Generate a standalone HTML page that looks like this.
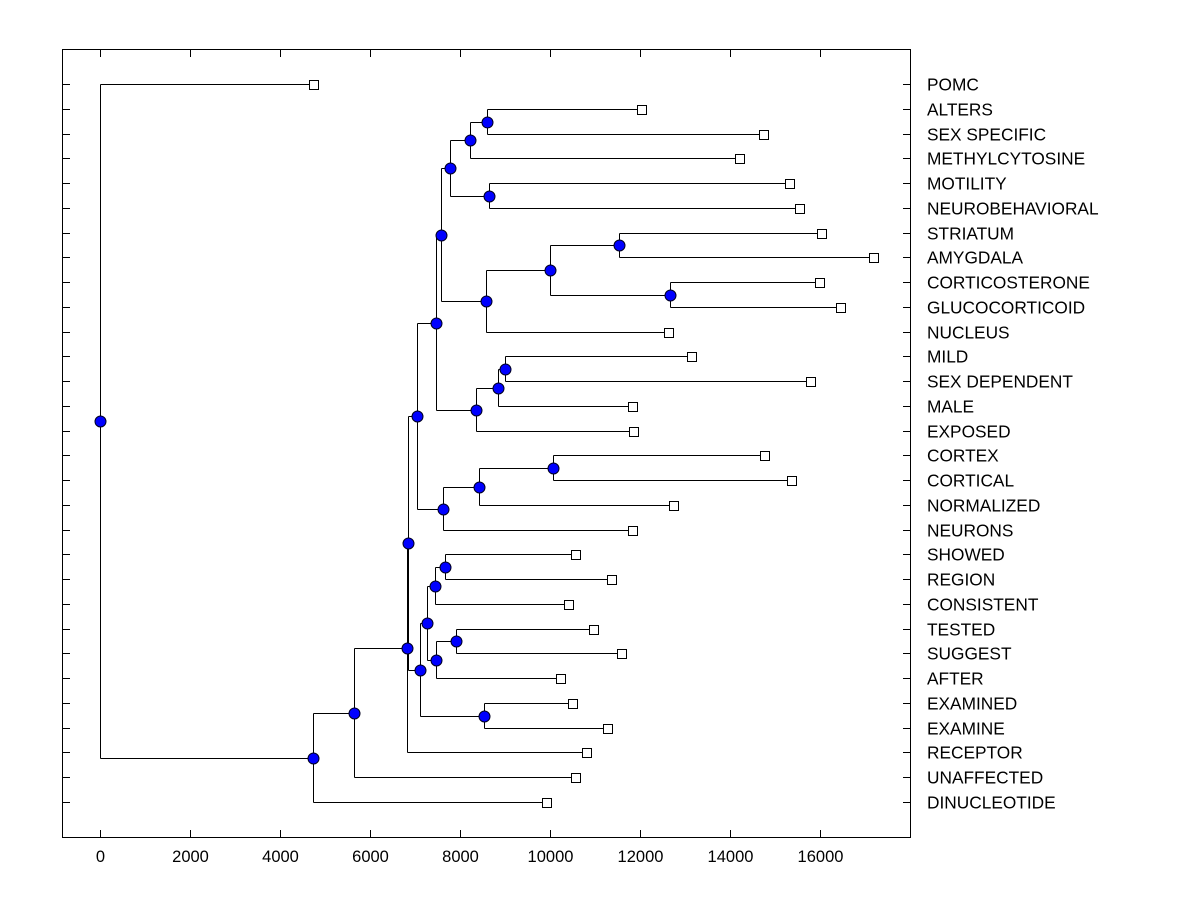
<!DOCTYPE html>
<html><head><meta charset="utf-8"><style>
html,body{margin:0;padding:0;background:#fff;}
svg{display:block;font-family:"Liberation Sans",Arial,sans-serif;}
</style></head><body>
<svg id="chart" width="1200" height="900" viewBox="0 0 1200 900" xmlns="http://www.w3.org/2000/svg">
<rect x="0" y="0" width="1200" height="900" fill="#fff"/>
<rect x="62.5" y="49.5" width="848" height="788" fill="none" stroke="#000" stroke-width="1" shape-rendering="crispEdges"/>
<g id="axes" shape-rendering="crispEdges"></g><g id="links" shape-rendering="crispEdges"></g><g id="marks"></g>
</svg>
<script>
const leafLabels = ["POMC","ALTERS","SEX SPECIFIC","METHYLCYTOSINE","MOTILITY","NEUROBEHAVIORAL","STRIATUM","AMYGDALA","CORTICOSTERONE","GLUCOCORTICOID","NUCLEUS","MILD","SEX DEPENDENT","MALE","EXPOSED","CORTEX","CORTICAL","NORMALIZED","NEURONS","SHOWED","REGION","CONSISTENT","TESTED","SUGGEST","AFTER","EXAMINED","EXAMINE","RECEPTOR","UNAFFECTED","DINUCLEOTIDE"];
const leafValues = [4733,12022,14733,14200,15311,15533,16022,17178,15978,16444,12622,13133,15778,11822,11844,14756,15356,12733,11822,10556,11356,10400,10956,11578,10222,10489,11267,10800,10556,9911];
const nodeNames = ["n-alters","n-meth","n-mot","n-450","n-str","n-cort","n-550","n-486","n-443","n-mild","n-498","n-476","n-436","n-cortex","n-479","n-443b","n-417","n-show","n-435","n-test","n-436b","n-427","n-exam","n-420","n-408","n-407","n-354","n-313","root"];
const nodeValues = [8600,8222,8644,7778,11533,12667,10000,8578,7578,9000,8844,8355,7467,10067,8422,7622,7044,7667,7444,7911,7467,7267,8533,7111,6844,6822,5644,4733,0];
const nodeChildren = [["ALTERS","SEX SPECIFIC"],["n-alters","METHYLCYTOSINE"],["MOTILITY","NEUROBEHAVIORAL"],["n-meth","n-mot"],["STRIATUM","AMYGDALA"],["CORTICOSTERONE","GLUCOCORTICOID"],["n-str","n-cort"],["n-550","NUCLEUS"],["n-450","n-486"],["MILD","SEX DEPENDENT"],["n-mild","MALE"],["n-498","EXPOSED"],["n-443","n-476"],["CORTEX","CORTICAL"],["n-cortex","NORMALIZED"],["n-479","NEURONS"],["n-436","n-443b"],["SHOWED","REGION"],["n-show","CONSISTENT"],["TESTED","SUGGEST"],["n-test","AFTER"],["n-435","n-436b"],["EXAMINED","EXAMINE"],["n-427","n-exam"],["n-417","n-420"],["n-408","RECEPTOR"],["n-407","UNAFFECTED"],["n-354","DINUCLEOTIDE"],["POMC","n-313"]];
const xTicks = [0,2000,4000,6000,8000,10000,12000,14000,16000];

const NS="http://www.w3.org/2000/svg";
const X = v => Math.round(100 + v*0.045)+0.5;
const Y = i => Math.round(84 + i*(802-84)/29)+0.5;
function mk(tag, attrs, parent){const e=document.createElementNS(NS,tag);for(const k in attrs)e.setAttribute(k,attrs[k]);parent.appendChild(e);return e;}
const axes=document.getElementById('axes'), links=document.getElementById('links'), marks=document.getElementById('marks');

xTicks.forEach(t=>{
  const x=X(t);
  const b=mk('line',{x1:x,y1:830,x2:x,y2:838,stroke:'#000'},axes);
  
  
  const tp=mk('line',{x1:x,y1:49,x2:x,y2:57,stroke:'#000'},axes);
  
  
  const tx=mk('text',{x:x,y:862,'text-anchor':'middle','font-size':'16.5'},axes);
  tx.textContent=t;
  
  
});

const pos={};
leafLabels.forEach((l,i)=>{
  const y=Y(i);
  pos[l]={x:X(leafValues[i]),y:y};
  const lt=mk('line',{x1:62,y1:y,x2:70,y2:y,stroke:'#000'},axes);
  
  
  const rt=mk('line',{x1:903,y1:y,x2:911,y2:y,stroke:'#000'},axes);
  
  
  const tx=mk('text',{x:927,y:y+6,'font-size':'17.3'},axes);
  tx.textContent=l;
  
  
});
nodeNames.forEach((n,i)=>{
  const ys=nodeChildren[i].map(c=>pos[c].y);
  const y0=Math.min(...ys), y1=Math.max(...ys);
  const x=X(nodeValues[i]);
  pos[n]={x:x,y:Math.round((y0+y1)/2-0.5)+0.5};
  const v=mk('line',{x1:x,y1:y0,x2:x,y2:y1,stroke:'#000'},links);
  
  
  nodeChildren[i].forEach(c=>{
    const h=mk('line',{x1:x,y1:pos[c].y,x2:pos[c].x,y2:pos[c].y,stroke:'#000'},links);
    
    
  });
});
leafLabels.forEach(l=>{
  const p=pos[l];
  const r=mk('rect',{x:p.x-4,y:p.y-4,width:9,height:9,fill:'#fff',stroke:'#000','shape-rendering':'crispEdges'},marks);
  
  
});
nodeNames.forEach(n=>{
  const p=pos[n];
  const c=mk('circle',{cx:p.x,cy:p.y,r:5.5,fill:'#0000ff',stroke:'#000020','stroke-width':'1'},marks);
  
  
});
</script>
</body></html>
